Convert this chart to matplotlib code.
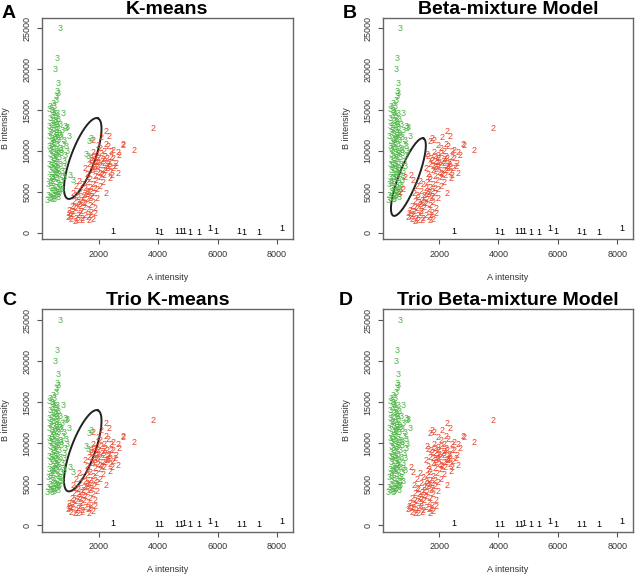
import numpy as np
import matplotlib
import matplotlib.pyplot as plt

matplotlib.use('Agg')
plt.rcParams['font.family'] = ['Liberation Sans', 'DejaVu Sans']

# genotype 1 (AA) - black
GENO1_A = [2480, 3960, 4110, 4630, 4750, 4860, 5080, 5360, 5730, 5930, 6720, 6890, 7390, 8150]
GENO1_B = [200, 150, 50, 150, 150, 200, 50, 50, 450, 150, 150, 50, 50, 450]

# genotype 2 (AB) - red, core points
GENO2_A = [3825, 2256, 2367, 2815, 2830, 3185, 2310, 1973, 1820, 2500, 2650,
           2080, 1850, 2230, 1980, 2420, 1760, 2120, 2350, 1920, 2600,
           1680, 2040, 2270, 1860, 2480, 2150, 1780, 1990, 2380, 2650,
           1620, 2200, 1880, 2050, 2400, 1700, 2150, 1950, 2300, 2500,
           1820, 2050, 2700, 1550, 2110, 2330, 1900, 1740, 2560, 2000,
           1350, 1600, 1450, 1800, 1250, 1700, 1550, 1950, 1380, 1650,
           1850, 2256, 1150, 1500, 1750, 1300, 1950, 1600, 1420, 1180,
           1800, 1550, 1350, 1700, 1100, 1500, 1250, 1900, 1650, 1400,
           1150, 1750, 1000, 1550, 1300, 963, 1300, 1694, 1080, 1650,
           1450, 1200, 1900, 1050, 1600, 2050, 1250, 1480, 1720, 1380,
           1020, 1120, 1230, 1380, 1180, 1320, 1480, 1620, 1750, 1880,
           1430, 1800, 1720, 2180, 2280, 1960, 2380, 1780, 2060, 2220,
           1920, 2160, 1660, 2420, 2180, 1880, 2450, 2250, 2100]
GENO2_B = [12770, 12350, 11820, 10840, 10650, 10100, 10500, 10710, 11250, 10100, 9800,
           9650, 9300, 9350, 9050, 9150, 8850, 8750, 8600, 8550, 8450,
           8300, 8250, 8050, 7950, 7800, 7650, 7550, 7400, 7350, 7250,
           7150, 7050, 6900, 6750, 6600, 6450, 8950, 8150, 7850, 9050,
           9850, 10300, 9400, 7850, 7150, 8350, 7700, 9050, 8100, 8600,
           6300, 6100, 5850, 5900, 5600, 5500, 5350, 5250, 5100, 4950,
           4750, 4840, 4800, 4600, 4450, 4350, 4150, 4050, 3950, 3850,
           3700, 3550, 3400, 3300, 3250, 3050, 2950, 3000, 2800, 2650,
           2550, 2450, 2300, 2150, 2050, 1880, 1480, 1480, 1600, 1900,
           1750, 1400, 2300, 2000, 5100, 5600, 4500, 3600, 4200, 3150,
           2700, 2200, 1750, 2350, 3050, 3750, 4250, 4700, 5100, 5450,
           1550, 1650, 2050, 8450, 9100, 9450, 8100, 8150, 7250, 7600,
           6350, 6200, 6800, 9900, 9900, 8700, 7000, 10800, 11600]

# genotype 3 (BB) - green, core points
GENO3_A = [700, 594, 549, 627, 627, 570, 600, 459, 347, 520, 795, 908, 1020, 950, 880,
           620, 500, 450, 560, 390,
           430, 560, 360, 650, 480, 590, 400, 720, 520, 340, 620, 460, 560, 780, 390, 670,
           500, 600, 330, 740, 450, 560, 650, 400, 520, 820, 610, 350, 470, 700, 560, 420,
           640, 510, 760, 370, 590, 460, 680, 540, 400, 830, 620, 480, 350, 720, 560, 430,
           650, 510, 380, 790, 590, 460, 690, 540, 350, 620, 470, 760, 400, 560, 660, 320,
           490, 600, 430, 700, 540, 370, 620, 470, 300, 560, 410, 650, 500, 290, 440, 360,
           530, 420, 590, 480, 370, 610, 500, 420, 570, 490, 380, 550, 600, 700, 740, 880,
           860, 800, 720, 660, 470, 540, 450, 530, 620, 440, 520, 850, 900, 930]
GENO3_B = [25000, 21270, 19950, 18310, 17080, 16660, 17300, 15850, 15020, 15400, 14620, 12770, 11740, 12900, 13000,
           14600, 14550, 15000, 16200, 15500,
           14350, 14200, 13950, 13900, 13650, 13500, 13350, 13250, 13150, 12950, 12850, 12700, 12550, 12450, 12300, 12200,
           12050, 11900, 11750, 11650, 11550, 11400, 11250, 11100, 10950, 10850, 10750, 10600, 10450, 10350, 10200, 10050,
           9950, 9800, 9700, 9550, 9450, 9300, 9150, 9000, 8850, 8750, 8650, 8500, 8400, 8300, 8150, 8000,
           7900, 7750, 7600, 7500, 7350, 7200, 7100, 6950, 6800, 6650, 6500, 6400, 6250, 6150, 6000, 5850,
           5700, 5550, 5400, 5300, 5150, 5000, 4900, 4750, 4600, 4500, 4350, 4250, 4100, 3950, 4000, 4200,
           13750, 12500, 12150, 11250, 10250, 9700, 9050, 8250, 7550, 6800, 6000, 5000, 13300, 11950, 10100, 9400,
           8100, 6900, 5800, 4700, 14750, 11650, 10750, 8400, 7250, 6700, 4400, 11300, 10500, 9900]

# points whose call differs between methods
DISPUTED_A = [1748, 1700, 1637, 1600, 1131, 1060, 853, 684, 790]
DISPUTED_B = [11540, 11200, 9270, 9600, 6400, 7000, 6700, 4880, 5300]
KMEANS_CALL = [3, 3, 3, 3, 3, 3, 3, 3, 3]
BETA_CALL = [2, 2, 2, 2, 2, 2, 2, 2, 2]
TRIO_BETA_CALL = [2, 2, 2, 2, 2, 2, 3, 3, 3]

# highlighted region: centre and the two half-axis vectors (data units)
KMEANS_ELLIPSE = [(1470, 9080), (505, 4925), (377, -518)]
BETA_ELLIPSE = [(965, 6810), (505, 4740), (300, -420)]

GENO_COLORS = {1: 'black', 2: '#e8452c', 3: '#4fb548'}


def draw_panel(ax, title, calls, ellipse):
    groups = [(GENO1_A, GENO1_B, [1] * len(GENO1_A)),
              (GENO2_A, GENO2_B, [2] * len(GENO2_A)),
              (GENO3_A, GENO3_B, [3] * len(GENO3_A)),
              (DISPUTED_A, DISPUTED_B, calls)]
    for xs, ys, gs in groups:
        for x, y, g in zip(xs, ys, gs):
            ax.text(x, y, str(g), color=GENO_COLORS[g], fontsize=6.5,
                    ha='center', va='center', clip_on=True)
    if ellipse is not None:
        (cx, cy), (ux, uy), (vx, vy) = ellipse
        t = np.linspace(0, 2 * np.pi, 200)
        ax.plot(cx + ux * np.cos(t) + vx * np.sin(t),
                cy + uy * np.cos(t) + vy * np.sin(t),
                color='#222222', lw=1.4)

    ax.set_xlim(100, 8530)
    ax.set_ylim(-800, 26300)
    ax.set_xticks([2000, 4000, 6000, 8000])
    ax.set_yticks([0, 5000, 10000, 15000, 20000, 25000])
    ax.tick_params(labelsize=6.5, length=3.5, width=0.8, color='#555555',
                   labelcolor='#333333', pad=4)
    for lab in ax.get_yticklabels():
        lab.set_rotation(90)
        lab.set_va('center')
    for sp in ax.spines.values():
        sp.set_color('#666666')
        sp.set_linewidth(1.0)
    ax.set_xlabel('A intensity', fontsize=6.5, color='#333333', labelpad=10)
    ax.set_ylabel('B intensity', fontsize=6.5, color='#333333', labelpad=9)
    ax.set_title(title, fontsize=14, fontweight='bold', pad=1.5)


fig = plt.figure(figsize=(6.4, 5.75), dpi=100)
ax_a = fig.add_axes([0.0656, 0.584, 0.392, 0.385])
ax_b = fig.add_axes([0.598, 0.584, 0.391, 0.385])
ax_c = fig.add_axes([0.0656, 0.075, 0.392, 0.387])
ax_d = fig.add_axes([0.598, 0.075, 0.391, 0.387])

draw_panel(ax_a, 'K-means', KMEANS_CALL, KMEANS_ELLIPSE)
draw_panel(ax_b, 'Beta-mixture Model', BETA_CALL, BETA_ELLIPSE)
draw_panel(ax_c, 'Trio K-means', KMEANS_CALL, KMEANS_ELLIPSE)
draw_panel(ax_d, 'Trio Beta-mixture Model', TRIO_BETA_CALL, None)

for letter, x, y in [('A', 0.003, 0.977), ('B', 0.535, 0.977),
                     ('C', 0.003, 0.478), ('D', 0.530, 0.478)]:
    fig.text(x, y, letter, fontsize=14, fontweight='bold', ha='left', va='center')

fig.savefig('out.png', dpi=100)
